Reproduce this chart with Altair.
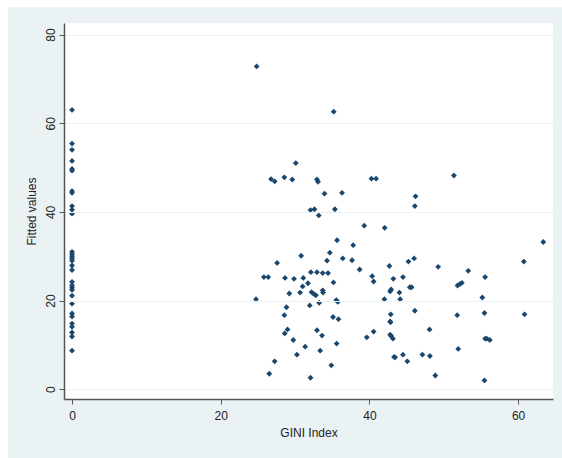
import altair as alt
import pandas as pd

# x = 0 group
gini_zero = [0]*31
fit_zero = [63.0, 55.4, 54.0, 51.5, 49.7, 49.3, 44.7, 44.3, 41.3, 40.5, 39.6,
             31.0, 30.5, 30.0, 29.5, 29.0, 27.9, 26.9, 24.2, 23.4, 22.9, 22.4,
             21.1, 19.3, 17.1, 16.4, 14.8, 14.1, 12.8, 11.9, 8.7]

gini_pos = [24.84, 35.2, 30.1, 26.77, 27.26, 28.56, 29.62, 32.95, 33.09, 33.96,
            36.32, 32.08, 32.61, 35.36, 33.19, 40.28, 40.9, 51.37, 46.21, 46.12,
            39.31, 42.06, 35.65, 37.82, 63.39, 34.68, 30.82, 36.42, 34.3, 37.67,
            46.02, 45.25, 60.78, 27.59, 42.69, 38.69, 49.25, 53.3, 32.13, 32.95,
            33.72, 34.44, 25.81, 26.39, 28.65, 29.86, 31.11, 40.38, 40.57, 43.22,
            44.52, 55.57, 35.17, 31.74, 31.02, 51.86, 52.15, 52.44, 45.44, 45.68,
            42.93, 42.79, 44.04, 30.68, 29.23, 32.22, 32.51, 32.8, 33.72, 33.77,
            24.75, 35.55, 35.75, 42.02, 44.14, 55.19, 33.24, 31.98, 28.85, 46.12,
            42.88, 55.48, 51.81, 60.87, 28.56, 35.11, 35.84, 42.79, 42.84, 48.09,
            28.99, 32.95, 28.61, 33.63, 40.57, 42.79, 42.93, 43.17, 39.65, 55.57,
            55.81, 56.2, 29.76, 35.6, 31.36, 51.95, 33.38, 30.25, 43.32, 43.46,
            44.52, 47.13, 48.14, 45.1, 27.26, 34.88, 26.53, 48.87, 32.08, 55.48]
fit_pos = [72.8, 62.6, 51.0, 47.4, 46.9, 47.8, 47.3, 47.3, 46.8, 44.1,
           44.3, 40.4, 40.6, 40.6, 39.2, 47.5, 47.5, 48.2, 43.5, 41.3,
           36.9, 36.4, 33.6, 32.5, 33.2, 30.8, 30.1, 29.5, 29.0, 29.1,
           29.5, 28.8, 28.8, 28.5, 27.8, 27.0, 27.6, 26.7, 26.4, 26.4,
           26.2, 26.2, 25.3, 25.3, 25.1, 24.9, 25.1, 25.5, 24.3, 24.9,
           25.3, 25.3, 24.1, 23.9, 23.2, 23.4, 23.7, 24.0, 23.0, 23.0,
           22.5, 22.1, 21.8, 21.8, 21.6, 21.9, 21.5, 21.2, 22.3, 21.8,
           20.3, 20.1, 19.7, 20.3, 20.3, 20.7, 19.5, 18.9, 18.5, 17.7,
           16.9, 17.2, 16.7, 16.9, 16.7, 16.3, 15.8, 15.3, 15.1, 13.5,
           13.5, 13.3, 12.6, 12.1, 13.0, 12.3, 12.0, 11.4, 11.7, 11.4,
           11.4, 11.1, 11.1, 10.3, 9.6, 9.1, 8.7, 7.8, 7.3, 7.2,
           7.8, 7.8, 7.5, 6.3, 6.3, 5.4, 3.5, 3.1, 2.6, 2.0]

x_ticks = [0, 20, 40, 60]
y_ticks = [0, 20, 40, 60, 80]

df = pd.DataFrame({"gini": gini_zero + gini_pos, "fitted": fit_zero + fit_pos})

FONT = "Liberation Sans"
TXT = "#222222"
W, H = 489, 376
PL, PT, PR, PB = 64, 23, 9, 59

one = pd.DataFrame({"k": [0]})
outer = alt.Chart(one).mark_rect(color="#eaf2f3", clip=False).encode(
    x=alt.value(8 - PL), x2=alt.value(W + PR), y=alt.value(7 - PT), y2=alt.value(H + PB)
)
inner = alt.Chart(one).mark_rect(color="white", clip=False).encode(
    x=alt.value(0), x2=alt.value(W), y=alt.value(0), y2=alt.value(H)
)

points = alt.Chart(df).mark_point(
    shape="diamond", filled=True, size=34, color="#1a476f", opacity=1
).encode(
    x=alt.X("gini:Q", title="GINI Index",
            scale=alt.Scale(domain=[-1.08, 64.7], nice=False, zero=False),
            axis=alt.Axis(values=x_ticks, grid=False, tickSize=5, labelPadding=6,
                          titlePadding=6, zindex=1)),
    y=alt.Y("fitted:Q", title="Fitted values",
            scale=alt.Scale(domain=[-2.2, 82.6], nice=False, zero=False),
            axis=alt.Axis(values=y_ticks, grid=True, gridColor="#eaf2f3", gridWidth=1,
                          tickSize=5, labelAngle=270, labelAlign="center",
                          labelBaseline="bottom", labelPadding=2, titlePadding=6,
                          zindex=1)),
)

chart = alt.layer(outer, inner, points).properties(
    width=W, height=H,
    padding={"left": PL, "top": PT, "right": PR, "bottom": PB},
    autosize=alt.AutoSizeParams(type="none"),
    background="white",
).configure_view(
    fill="white", stroke=None
).configure_axis(
    domainColor="#555555", tickColor="#555555", domainWidth=1.5,
    labelFont=FONT, titleFont=FONT, labelFontSize=12, titleFontSize=12,
    labelColor=TXT, titleColor=TXT, titleFontWeight="normal",
)

chart.save("out.html", embed_options={"renderer": "svg", "actions": False})
